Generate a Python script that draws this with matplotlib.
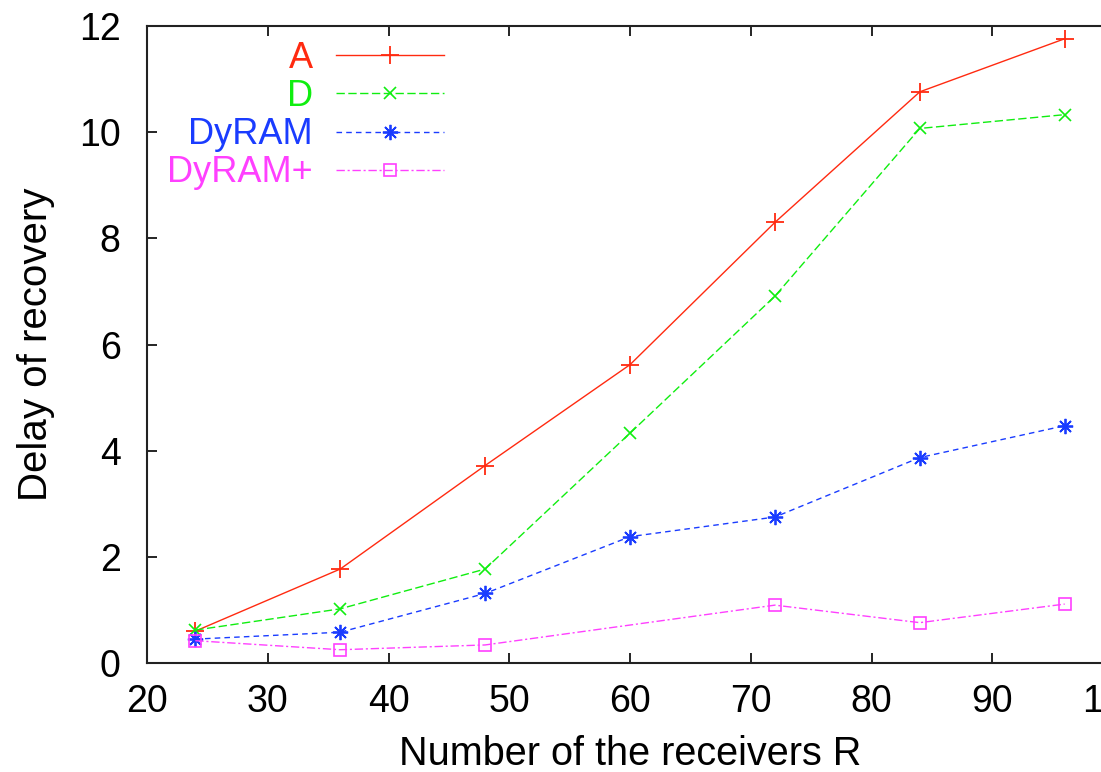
import matplotlib
matplotlib.use("Agg")
import matplotlib.pyplot as plt
from matplotlib.lines import Line2D

# receivers on the x axis, recovery delay per protocol
receivers = [24, 36, 48, 60, 72, 84, 96]
delay_a = [0.60, 1.77, 3.72, 5.62, 8.30, 10.76, 11.76]
delay_d = [0.62, 1.02, 1.77, 4.33, 6.91, 10.07, 10.33]
delay_dyram = [0.45, 0.58, 1.31, 2.38, 2.75, 3.87, 4.47]
# DyRAM+ has no run at 60 receivers
receivers_plus = [24, 36, 48, 72, 84, 96]
delay_dyram_plus = [0.42, 0.25, 0.34, 1.09, 0.76, 1.11]

names = ["A", "D", "DyRAM", "DyRAM+"]
xticks = [20, 30, 40, 50, 60, 70, 80, 90, 100]
yticks = [0, 2, 4, 6, 8, 10, 12]

plt.rcParams['font.family'] = ['Liberation Sans', 'DejaVu Sans']

W, H = 1101, 772
fig = plt.figure(figsize=(W / 100, H / 100), dpi=100)
# axes run a little past the right edge of the image, like the gnuplot output
left, right, bottom, top = 147, 1113, 663, 26
ax = fig.add_axes([left / W, 1 - bottom / H, (right - left) / W, (bottom - top) / H])

styles = [
    dict(color='#ff2a10', ls='-', marker='+', ms=13, mew=1.3),
    dict(color='#10ee10', ls=(0, (6, 2.5)), marker='x', ms=9, mew=1.2),
    dict(color='#1a3cff', ls=(0, (4, 3)), marker=(8, 2, 0), ms=11, mew=1.3),
    dict(color='#ff40ff', ls=(0, (6, 2, 1.5, 2)), marker='s', ms=8, mew=1.2,
         mfc='none'),
]
xs = [receivers, receivers, receivers, receivers_plus]
series = [delay_a, delay_d, delay_dyram, delay_dyram_plus]

for x, ys, st in zip(xs, series, styles):
    ax.plot(x, ys, lw=1.0, clip_on=False, **st)

ax.set_xlim(20, 100)
ax.set_ylim(0, 12)
ax.set_xticks(xticks)
ax.set_yticks(yticks)
ax.tick_params(direction='in', length=7, width=1.2, labelsize=27,
               top=True, right=True)
ax.tick_params(axis='x', pad=15)
ax.tick_params(axis='y', pad=19)
for sp in ax.spines.values():
    sp.set_linewidth(1.5)
    sp.set_color('#222222')

ax.set_xlabel("Number of the receivers R", fontsize=28.5, labelpad=11)
ax.set_ylabel("Delay of recovery", fontsize=29, labelpad=17)

# gnuplot style key: right aligned titles, sample line to the right
for i, (name, st) in enumerate(zip(names, styles)):
    y = 1 - (55 + 38.3 * i) / H
    fig.text(313 / W, y - 3 / H, name, color=st['color'], fontsize=26,
             ha='right', va='center')
    fig.add_artist(Line2D([336 / W, 444 / W], [y, y], lw=1.0,
                          color=st['color'], ls=st['ls']))
    mk = {k: v for k, v in st.items() if k not in ('ls',)}
    fig.add_artist(Line2D([390 / W], [y], ls='none', **mk))

fig.savefig("out.png", dpi=100)
